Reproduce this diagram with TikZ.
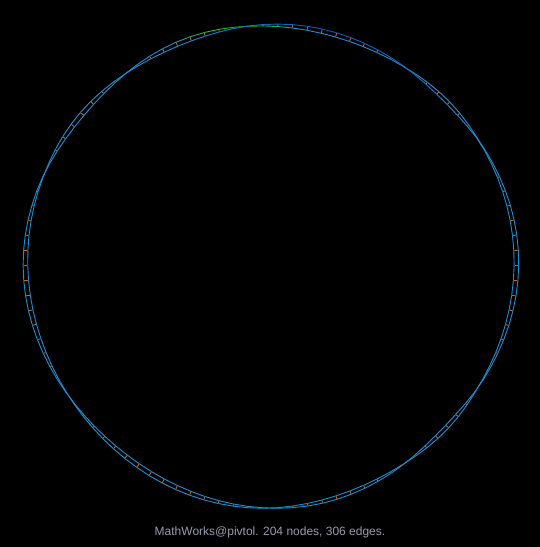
\documentclass[tikz,border=0pt]{standalone}
\usepackage{fontspec}
\setmainfont{Liberation Sans}
\definecolor{railc}{HTML}{1A8FD6}
\definecolor{raild}{HTML}{0D4FC8}
\definecolor{railg}{HTML}{22C020}
\definecolor{rungc}{HTML}{D0601A}
\definecolor{capc}{HTML}{9A9AB0}
\begin{document}
\begin{tikzpicture}[x=1pt,y=-1pt,
  rail/.style={line width=0.9pt},
  rungline/.style={draw=rungc,line width=0.9pt,shorten <=0.45pt,shorten >=0.45pt},
  caption/.style={text=capc,font=\fontsize{12}{14}\selectfont,inner sep=0pt}]
\fill[black] (0,0) rectangle (540,547);
\useasboundingbox (0,0) rectangle (540,547);
\pgfmathsetmacro\dt{360/102}
% node positions of the circular ladder (102 rungs)
\foreach \za/\zb/\s/\amp in {31/55/1/1.8,55/96/-1/2.2,96/127/1/2.2,127/157/-1/2.3,157/213/1/2.4,213/270/-1/2.3,270/305/1/1.8,305/329/-1/2.0,329/391/1/2.3}{
  \pgfmathtruncatemacro\ia{ceil(\za/\dt)}
  \pgfmathtruncatemacro\ib{ceil(\zb/\dt)-1}
  \foreach \i in {\ia,...,\ib}{
    \pgfmathsetmacro\t{\i*\dt}
    \pgfmathsetmacro\g{\s*\amp*sin(180*(\t-\za)/(\zb-\za))}
    \pgfmathsetmacro\r{241.75+2*cos(2*\t)+1.75*cos(4*\t)+1.2*sin(3*\t+20)}
    \pgfmathtruncatemacro\k{mod(\i,102)}
    \coordinate (a\k) at ({270.5+(\r+\g)*cos(\t)},{265.5-(\r+\g)*sin(\t)});
    \coordinate (b\k) at ({270.5+(\r-\g)*cos(\t)},{265.5-(\r-\g)*sin(\t)});
  }
}
% rails
\foreach \i in {0,...,101}{
  \pgfmathtruncatemacro\j{mod(\i+1,102)}
  \pgfmathsetmacro\t{(\i+0.5)*\dt}
  \pgfmathtruncatemacro\w{max(0,min(100,160-abs(\t-98)*10))}
  \pgfmathtruncatemacro\d{max(0,100-abs(\t-75)*2.5)}
  \draw[rail,draw=railg!\w!railc] (a\i) -- (a\j);
  \draw[rail,draw=raild!\d!railc] (b\i) -- (b\j);
}
% rungs
\foreach \i in {0,...,101}{
  \draw[rungline] (a\i) -- (b\i);
}
\node[caption] (cap) at (270,532) {MathWorks@pivtol. 204 nodes, 306 edges.};
\end{tikzpicture}
\end{document}
